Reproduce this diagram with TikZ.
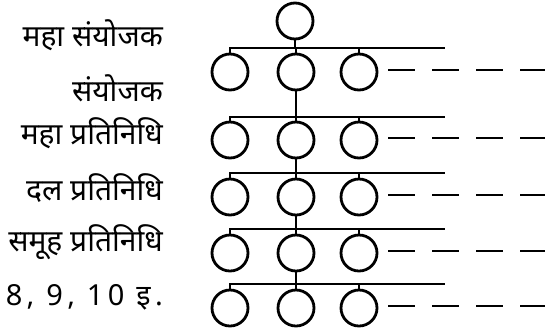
\documentclass[tikz,border=0pt]{standalone}
\usepackage{fontspec}
\newfontfamily\deva[Script=Devanagari]{Noto Sans}
\newfontfamily\devasp[Script=Devanagari,LetterSpace=15]{Noto Sans}
\begin{document}
\begin{tikzpicture}[x=1pt,y=-1pt,
  circ/.style={draw,circle,line width=2.8pt,minimum size=36pt,inner sep=0pt},
  wire/.style={line width=2.7pt},
  dashline/.style={line width=2.7pt,dash pattern=on 27pt off 17pt},
  lab/.style={anchor=east,font=\deva\fontsize{30}{33}\selectfont,inner sep=0pt}]
\useasboundingbox (0,0) rectangle (545,333);
\node[circ] (top) at (295,21) {};
\foreach \k/\cy/\ly/\pa in {1/72/48/top,2/140/117/m1,3/197/173/m2,4/253/229/m3,5/308/284/m4} {
  \node[circ] (l\k) at (230,\cy) {};
  \node[circ] (m\k) at (296,\cy) {};
  \node[circ] (r\k) at (359,\cy) {};
  \coordinate (e\k) at (445,\ly);
  \coordinate (d\k) at (545,\cy-2);
  \coordinate (ds\k) at (388,\cy-2);
  \draw[wire] (l\k.north) |- (e\k);
  \draw[wire] (m\k.north) -- (m\k.north |- e\k);
  \draw[wire] (r\k.north) -- (r\k.north |- e\k);
  \draw[wire] (\pa.south) -- (\pa.south |- e\k);
  \draw[dashline] (ds\k) -- (d\k);
}
\node[lab] (t1) at (163,35) {महा संयोजक};
\node[lab] (t2) at (163,88) {संयोजक};
\node[lab] (t3) at (163,133) {महा प्रतिनिधि};
\node[lab] (t4) at (163,188) {दल प्रतिनिधि};
\node[lab] (t5) at (163,242) {समूह प्रतिनिधि};
\node[lab,font=\devasp\fontsize{29}{32}\selectfont] (t6) at (163,297) {8, 9, 10 इ.};
\end{tikzpicture}
\end{document}
